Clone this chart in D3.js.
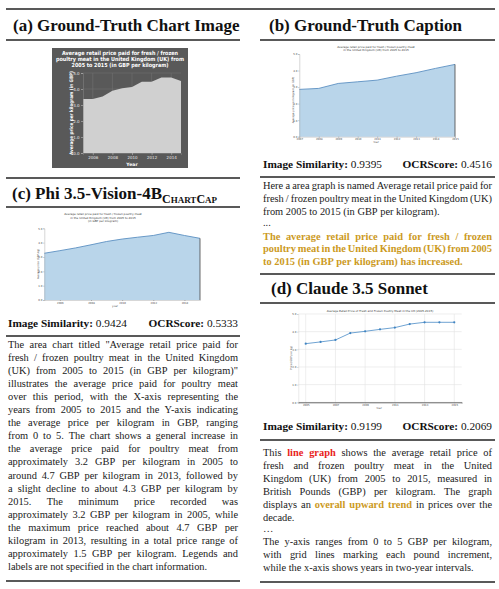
<!DOCTYPE html>
<html><head><meta charset="utf-8">
<script src="https://cdn.jsdelivr.net/npm/d3@7"></script>
<style>html,body{margin:0;padding:0;background:#fff;} svg{display:block;}</style>
</head><body>
<svg id="fig" width="499" height="589"></svg>
<script>
// ---------------- data ----------------
const yTicks = [0, 1, 2, 3, 4, 5];

// (a) ground-truth chart
const aYears  = [2005, 2006, 2007, 2008, 2009, 2010, 2011, 2012, 2013, 2014, 2015];
const aPrices = [3.37, 3.37, 3.53, 3.89, 4.05, 4.13, 4.45, 4.45, 4.72, 4.72, 4.50];
const aXTicks = [2006, 2008, 2010, 2012, 2014];
const aTitle  = ["Average retail price paid for fresh / frozen",
                 "poultry meat in the United Kingdom (UK) from",
                 "2005 to 2015 (in GBP per kilogram)"];

// (b) chart regenerated from ground-truth caption
const bYears  = [2007, 2008, 2009, 2010, 2011, 2012, 2013, 2014, 2015];
const bPrices = [2.86, 2.92, 3.22, 3.32, 3.42, 3.66, 3.87, 4.13, 4.37];
const bTitle  = ["Average retail price paid for fresh / frozen poultry meat",
                 "in the United Kingdom (UK) from 2005 to 2015"];

// (c) chart regenerated from Phi 3.5 caption
const cYears  = [2005, 2006, 2007, 2008, 2009, 2010, 2011, 2012, 2013, 2014, 2015];
const cPrices = [3.26, 3.44, 3.63, 3.85, 4.08, 4.25, 4.38, 4.50, 4.72, 4.50, 4.30];
const cXTicks = [2006, 2008, 2010, 2012, 2014];
const cTitle  = ["Average retail price paid for fresh / frozen poultry meat",
                 "in the United Kingdom (UK) from 2005 to 2015",
                 "(in GBP per kilogram)"];

// (d) chart regenerated from Claude caption
const dYears  = [2005, 2006, 2007, 2008, 2009, 2010, 2011, 2012, 2013, 2014, 2015];
const dPrices = [3.32, 3.42, 3.53, 3.92, 4.02, 4.13, 4.23, 4.43, 4.53, 4.53, 4.53];
const dXTicks = [2005, 2007, 2009, 2011, 2013, 2015];
const dTitle  = "Average Retail Price of Fresh and Frozen Poultry Meat in the UK (2005-2015)";

// scores
const scoresC = ["0.9424", "0.5333"];
const scoresB = ["0.9395", "0.4516"];
const scoresD = ["0.9199", "0.2069"];

// captions
const textC = [
 'The area chart titled "Average retail price paid for',
 'fresh / frozen poultry meat in the United Kingdom',
 '(UK) from 2005 to 2015 (in GBP per kilogram)"',
 'illustrates the average price paid for poultry meat',
 'over this period, with the X-axis representing the',
 'years from 2005 to 2015 and the Y-axis indicating',
 'the average price per kilogram in GBP, ranging',
 'from 0 to 5. The chart shows a general increase in',
 'the average price paid for poultry meat from',
 'approximately 3.2 GBP per kilogram in 2005 to',
 'around 4.7 GBP per kilogram in 2013, followed by',
 'a slight decline to about 4.3 GBP per kilogram by',
 '2015. The minimum price recorded was',
 'approximately 3.2 GBP per kilogram in 2005, while',
 'the maximum price reached about 4.7 GBP per',
 'kilogram in 2013, resulting in a total price range of',
 'approximately 1.5 GBP per kilogram. Legends and',
 'labels are not specified in the chart information.'
];
const textB1 = [
 'Here a area graph is named Average retail price paid for',
 'fresh / frozen poultry meat in the United Kingdom (UK)',
 'from 2005 to 2015 (in GBP per kilogram).'
];
const textB2 = [
 '[[g|The average retail price paid for fresh / frozen]]',
 '[[g|poultry meat in the United Kingdom (UK) from 2005]]',
 '[[g|to 2015 (in GBP per kilogram) has increased.]]'
];
const textD1 = [
 'This [[r|line graph]] shows the average retail price of',
 'fresh and frozen poultry meat in the United',
 'Kingdom (UK) from 2005 to 2015, measured in',
 'British Pounds (GBP) per kilogram. The graph',
 'displays an [[g|overall upward trend]] in prices over the',
 'decade.'
];
const textD2 = [
 'The y-axis ranges from 0 to 5 GBP per kilogram,',
 'with grid lines marking each pound increment,',
 'while the x-axis shows years in two-year intervals.'
];

// ---------------- helpers ----------------
const SERIF = '"Liberation Serif","Times New Roman",serif';
const SANS = '"DejaVu Sans",Verdana,sans-serif';
const svg = d3.select('#fig');
svg.append('rect').attr('width', 499).attr('height', 589).attr('fill', '#fff');

const styleMap = {
  n: {weight: 'normal', fill: '#1a1a1a'},
  r: {weight: 'bold', fill: '#e8231c'},
  g: {weight: 'bold', fill: '#cc9a1e'}
};

const measurer = svg.append('text').attr('font-family', SERIF).attr('visibility', 'hidden');
function measure(t, fs, weight) {
  measurer.attr('font-size', fs).attr('font-weight', weight).text(t);
  return measurer.node().getComputedTextLength();
}

function parseLine(s) {
  const out = [];
  const re = /\[\[(\w)\|([^\]]+)\]\]/g;
  let last = 0, m;
  const push = (txt, st) => txt.split(' ').filter(w => w.length).forEach(w => out.push({t: w, s: st}));
  while ((m = re.exec(s)) !== null) {
    push(s.slice(last, m.index), 'n');
    push(m[2], m[1]);
    last = re.lastIndex;
  }
  push(s.slice(last), 'n');
  return out;
}

function drawPara(lines, x0, width, y0, step, fs) {
  lines.forEach((line, i) => {
    const words = parseLine(line);
    const ws = words.map(w => measure(w.t, fs, styleMap[w.s].weight));
    const total = d3.sum(ws);
    const justify = i < lines.length - 1 && words.length > 1;
    let gap = justify ? (width - total) / (words.length - 1) : fs * 0.25;
    if (gap < fs * 0.1) gap = fs * 0.1;
    const t = svg.append('text').attr('font-family', SERIF).attr('font-size', fs)
      .attr('y', y0 + i * step);
    let x = x0;
    words.forEach((w, j) => {
      t.append('tspan').attr('x', x).text(w.t)
        .attr('font-weight', styleMap[w.s].weight).attr('fill', styleMap[w.s].fill);
      x += ws[j] + gap;
    });
  });
}

function rule(x1, x2, y, w) {
  svg.append('line').attr('x1', x1).attr('x2', x2).attr('y1', y).attr('y2', y)
    .attr('stroke', '#222').attr('stroke-width', w || 1.3);
}

const HFS = 17;
function heading(txt, x, y) {
  return svg.append('text').attr('x', x).attr('y', y).attr('font-family', SERIF)
    .attr('font-size', HFS).attr('font-weight', 'bold').attr('fill', '#111').text(txt);
}

function scoreRow(xl, xr, y, sc) {
  const t1 = svg.append('text').attr('x', xl).attr('y', y).attr('font-family', SERIF)
    .attr('font-size', 11.3).attr('fill', '#111');
  t1.append('tspan').attr('font-weight', 'bold').text('Image Similarity:');
  t1.append('tspan').text(' ' + sc[0]);
  const t2 = svg.append('text').attr('x', xr).attr('y', y).attr('font-family', SERIF)
    .attr('font-size', 11.3).attr('fill', '#111').attr('text-anchor', 'end');
  t2.append('tspan').attr('font-weight', 'bold').text('OCRScore:');
  t2.append('tspan').text(' ' + sc[1]);
}

// ---------------- layout rules & headings ----------------
const LX1 = 6, LX2 = 240, RX1 = 260, RX2 = 495;
rule(LX1, RX2, 9, 1.5);
heading('(a) Ground-Truth Chart Image', 13, 31);
rule(LX1, LX2, 40);
heading('(b) Ground-Truth Caption', 269, 31);
rule(RX1, RX2, 40);

const hc = heading('(c) Phi 3.5-Vision-4B', 12, 199);
hc.append('tspan').attr('dy', 4).attr('font-size', 12).text('C');
hc.append('tspan').attr('font-size', 9).text('HART');
hc.append('tspan').attr('font-size', 12).text('C');
hc.append('tspan').attr('font-size', 9).text('AP');
rule(LX1, LX2, 178);
rule(LX1, LX2, 207);

heading('(d) Claude 3.5 Sonnet', 271, 294);
rule(RX1, RX2, 274);
rule(RX1, RX2, 303);

scoreRow(8, 238, 327, scoresC);
rule(LX1, LX2, 336);
scoreRow(263, 492, 168, scoresB);
rule(RX1, RX2, 177);
scoreRow(263, 492, 430, scoresD);
rule(RX1, RX2, 440);

rule(LX1, LX2, 581, 1.5);
rule(RX1, RX2, 582, 1.5);

// ---------------- captions ----------------
const FS = 10.4;
drawPara(textC, 8, 230, 347.5, 13.1, FS);
drawPara(textB1, 263, 229, 189, 12.9, FS);
svg.append('text').attr('x', 263).attr('y', 226).attr('font-family', SERIF).attr('font-size', FS).attr('fill', '#1a1a1a').text('...');
drawPara(textB2, 263, 229, 239.5, 12.9, FS);
drawPara(textD1, 263, 229, 456, 13, FS);
svg.append('text').attr('x', 263).attr('y', 532).attr('font-family', SERIF).attr('font-size', FS).attr('fill', '#1a1a1a').text('\u2026');
drawPara(textD2, 263, 229, 545, 13, FS);

// ---------------- (a) ground-truth chart (dark theme) ----------------
(function () {
  const g = svg.append('g');
  g.append('rect').attr('x', 52).attr('y', 48).attr('width', 136).attr('height', 120).attr('fill', '#595959');
  const x = d3.scaleLinear().domain([2005, 2015]).range([83, 181]);
  const y = d3.scaleLinear().domain([0, 5]).range([153, 73]);
  // grid
  g.selectAll('.vg').data(aXTicks).join('line')
    .attr('x1', d => x(d)).attr('x2', d => x(d)).attr('y1', y(5)).attr('y2', y(0))
    .attr('stroke', '#707070').attr('stroke-width', 0.6);
  g.selectAll('.hg').data(yTicks).join('line')
    .attr('x1', x(2005)).attr('x2', x(2015)).attr('y1', d => y(d)).attr('y2', d => y(d))
    .attr('stroke', '#707070').attr('stroke-width', 0.6);
  const data = aYears.map((yr, i) => ({yr, v: aPrices[i]}));
  g.append('path').datum(data)
    .attr('d', d3.area().x(d => x(d.yr)).y0(y(0)).y1(d => y(d.v)))
    .attr('fill', '#d0d0d0');
  const ya = g.append('g').attr('transform', `translate(${x(2005)},0)`)
    .call(d3.axisLeft(y).tickValues(yTicks).tickSize(2).tickPadding(1.5));
  const xa = g.append('g').attr('transform', `translate(0,${y(0)})`)
    .call(d3.axisBottom(x).tickValues(aXTicks).tickFormat(d3.format('d')).tickSize(2).tickPadding(1.5));
  [ya, xa].forEach(a => {
    a.select('.domain').attr('stroke', '#888').attr('stroke-width', 0.5);
    a.selectAll('.tick line').attr('stroke', '#ccc').attr('stroke-width', 0.5);
    a.selectAll('.tick text').attr('fill', '#e8e8e8').attr('font-size', 4).attr('font-family', SANS);
  });
  g.append('text').attr('x', (x(2005) + x(2015)) / 2).attr('y', 166).attr('text-anchor', 'middle')
    .attr('font-family', SANS).attr('font-size', 4.6).attr('font-weight', 'bold').attr('fill', '#fff').text('Year');
  g.append('text').attr('transform', `translate(73,${(y(0) + y(5)) / 2}) rotate(-90)`)
    .attr('text-anchor', 'middle').attr('font-family', SANS).attr('font-size', 4.8).attr('font-weight', 'bold')
    .attr('fill', '#fff').attr('textLength', 84).attr('lengthAdjust', 'spacingAndGlyphs')
    .text('Average price per kilogram (in GBP)');
  const tl = [116, 128, 97];
  aTitle.forEach((s, i) => {
    g.append('text').attr('x', 120).attr('y', 55 + i * 5.8).attr('text-anchor', 'middle')
      .attr('font-family', SANS).attr('font-size', 5.6).attr('font-weight', 'bold').attr('fill', '#fff')
      .attr('textLength', tl[i]).attr('lengthAdjust', 'spacingAndGlyphs').text(s);
  });
})();

// ---------------- generic matplotlib-like area chart ----------------
function areaChart(o) {
  const g = svg.append('g');
  const x = d3.scaleLinear().domain(o.domain).range([o.x0, o.x1]);
  const y = d3.scaleLinear().domain([0, 5]).range([o.yb, o.yt]);
  const data = o.years.map((yr, i) => ({yr, v: o.values[i]}));
  g.append('path').datum(data)
    .attr('d', d3.area().x(d => x(d.yr)).y0(y(0)).y1(d => y(d.v)))
    .attr('fill', '#b9d5ea');
  g.append('path').datum(data)
    .attr('d', d3.line().x(d => x(d.yr)).y(d => y(d.v)))
    .attr('fill', 'none').attr('stroke', '#5b90c2').attr('stroke-width', 0.9);
  const lastD = data[data.length - 1];
  g.append('line').attr('x1', x(lastD.yr)).attr('x2', x(lastD.yr)).attr('y1', y(lastD.v)).attr('y2', y(0))
    .attr('stroke', '#444').attr('stroke-width', 0.8);
  const ya = g.append('g').attr('transform', `translate(${o.x0},0)`)
    .call(d3.axisLeft(y).tickValues(yTicks).tickSize(1).tickPadding(1));
  const xa = g.append('g').attr('transform', `translate(0,${o.yb})`)
    .call(d3.axisBottom(x).tickValues(o.xTicks).tickFormat(d3.format('d')).tickSize(1).tickPadding(0.8));
  [ya, xa].forEach(a => {
    a.select('.domain').attr('stroke', '#999').attr('stroke-width', 0.4);
    a.selectAll('.tick line').attr('stroke', '#666').attr('stroke-width', 0.4);
    a.selectAll('.tick text').attr('fill', '#444').attr('font-size', 2.6).attr('font-family', SANS);
  });
  g.append('text').attr('x', o.xlabX).attr('y', o.yb + 6.5).attr('text-anchor', 'middle')
    .attr('font-family', SANS).attr('font-size', 2.6).attr('fill', '#444').text(o.xlab);
  g.append('text').attr('transform', `translate(${o.x0 - 5},${o.ylabY}) rotate(-90)`)
    .attr('text-anchor', 'middle').attr('font-family', SANS).attr('font-size', 2.6).attr('fill', '#444')
    .text(o.ylab);
  o.title.forEach((s, i) => {
    g.append('text').attr('x', o.titleX).attr('y', o.titleY + i * 3.4).attr('text-anchor', 'middle')
      .attr('font-family', SANS).attr('font-size', 2.8).attr('fill', '#333').text(s);
  });
}

areaChart({years: bYears, values: bPrices, domain: [2007, 2015], x0: 299.3, x1: 455, yb: 136.7, yt: 54,
  xTicks: bYears, xlab: 'Year', xlabX: 376, ylab: 'Average price per kilogram (in GBP)', ylabY: 100,
  title: bTitle, titleX: 376, titleY: 47.6});

areaChart({years: cYears, values: cPrices, domain: [2005, 2015], x0: 44.3, x1: 200, yb: 300, yt: 228.3,
  xTicks: cXTicks, xlab: 'year', xlabX: 115, ylab: 'Average price (GBP/kg)', ylabY: 264,
  title: cTitle, titleX: 103, titleY: 215.3});

// ---------------- (d) line chart ----------------
(function () {
  const g = svg.append('g');
  const x = d3.scaleLinear().domain([2004.5, 2015.5]).range([298.3, 461.7]);
  const y = d3.scaleLinear().domain([0, 5]).range([402.3, 314]);
  g.selectAll('.hg').data(yTicks).join('line')
    .attr('x1', x.range()[0]).attr('x2', x.range()[1]).attr('y1', d => y(d)).attr('y2', d => y(d))
    .attr('stroke', '#e2e2e2').attr('stroke-width', 0.6);
  g.selectAll('.vg').data(dXTicks).join('line')
    .attr('x1', d => x(d)).attr('x2', d => x(d)).attr('y1', y(5)).attr('y2', y(0))
    .attr('stroke', '#e2e2e2').attr('stroke-width', 0.6);
  const data = dYears.map((yr, i) => ({yr, v: dPrices[i]}));
  g.append('path').datum(data).attr('d', d3.line().x(d => x(d.yr)).y(d => y(d.v)))
    .attr('fill', 'none').attr('stroke', '#4a8cc6').attr('stroke-width', 0.8);
  g.selectAll('circle').data(data).join('circle')
    .attr('cx', d => x(d.yr)).attr('cy', d => y(d.v)).attr('r', 1.1).attr('fill', '#3f84c2');
  const ya = g.append('g').attr('transform', `translate(${x.range()[0]},0)`)
    .call(d3.axisLeft(y).tickValues(yTicks).tickSize(1).tickPadding(1));
  const xa = g.append('g').attr('transform', `translate(0,${y(0)})`)
    .call(d3.axisBottom(x).tickValues(dXTicks).tickFormat(d3.format('d')).tickSize(1).tickPadding(0.8));
  ya.select('.domain').attr('stroke', '#ccc').attr('stroke-width', 0.4);
  xa.select('.domain').attr('stroke', '#444').attr('stroke-width', 0.8);
  [ya, xa].forEach(a => {
    a.selectAll('.tick line').attr('stroke', '#888').attr('stroke-width', 0.4);
    a.selectAll('.tick text').attr('fill', '#444').attr('font-size', 2.6).attr('font-family', SANS);
  });
  g.append('text').attr('x', 379).attr('y', 408.5).attr('text-anchor', 'middle')
    .attr('font-family', SANS).attr('font-size', 2.6).attr('fill', '#444').text('Year');
  g.append('text').attr('transform', `translate(292.3,358) rotate(-90)`).attr('text-anchor', 'middle')
    .attr('font-family', SANS).attr('font-size', 2.6).attr('fill', '#444').text('Price (GBP per kg)');
  g.append('text').attr('x', 380).attr('y', 311.5).attr('text-anchor', 'middle')
    .attr('font-family', SANS).attr('font-size', 2.8).attr('fill', '#333').text(dTitle);
})();
</script>
</body></html>
